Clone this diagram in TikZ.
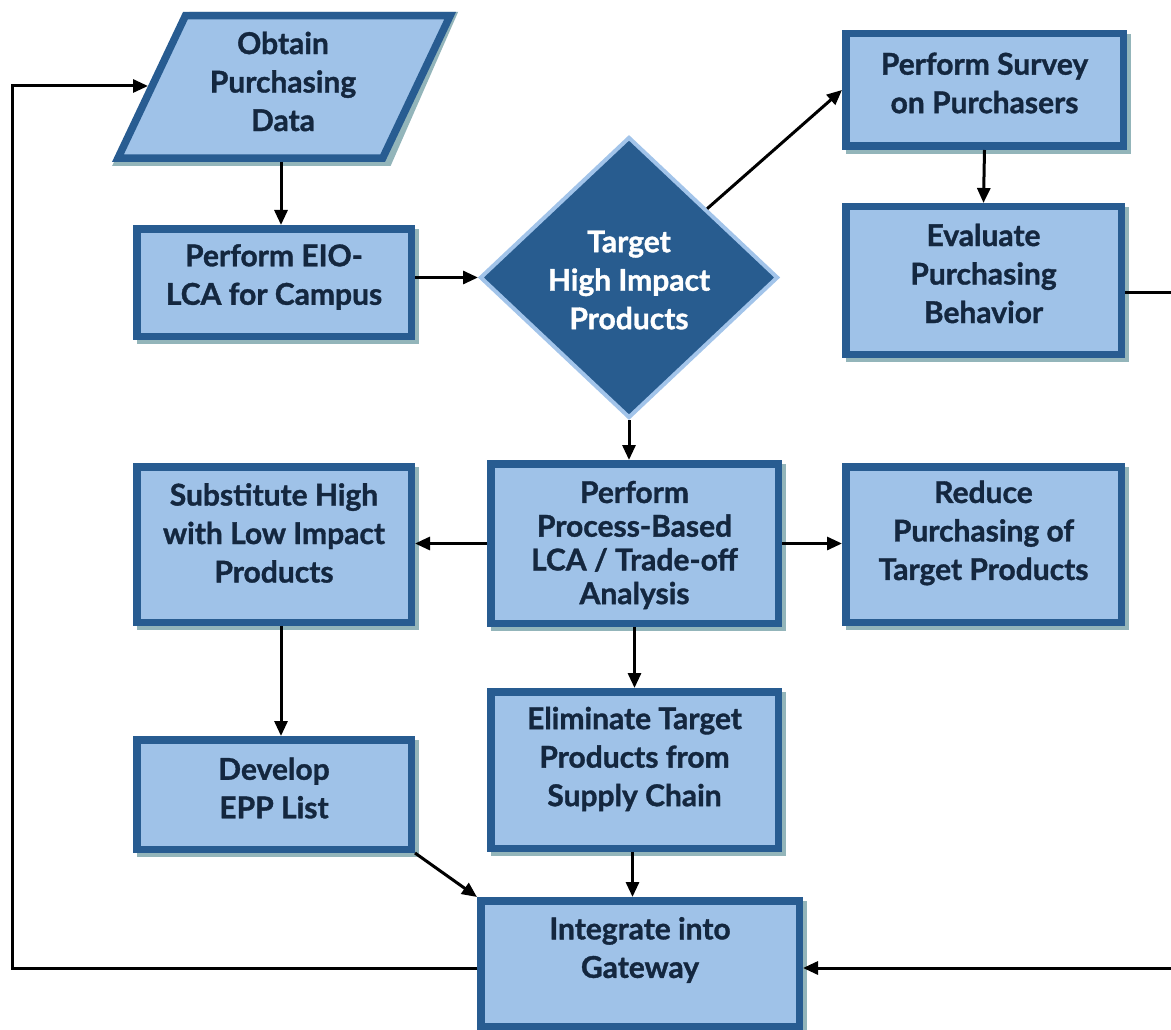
\documentclass[tikz,border=0pt]{standalone}
\usepackage{fontspec}
\setmainfont{Lato}[BoldFeatures={FakeBold=1.2}]
\usetikzlibrary{arrows.meta,shapes.geometric}
\definecolor{boxfill}{HTML}{9FC2E8}
\definecolor{boxline}{HTML}{285C91}
\definecolor{txtc}{HTML}{14273F}
\definecolor{shad}{HTML}{93B5BA}
\definecolor{dfill}{HTML}{285C8F}
\definecolor{dline}{HTML}{A2C4EA}
\begin{document}
\begin{tikzpicture}[x=1pt,y=-1pt,
 box/.style={draw=boxline, fill=boxfill, line width=7.5pt, rectangle, outer sep=3.75pt, inner sep=0pt,
   preaction={draw=shad, fill=shad, line width=7.5pt, transform canvas={xshift=4pt,yshift=-4pt}}},
 lbl/.style={text=txtc, font=\fontsize{30}{38.5}\selectfont\bfseries, align=center, inner sep=0pt},
 tight/.style={font=\fontsize{30}{33.7}\selectfont\bfseries},
 arr/.style={line width=3pt, -{Triangle[length=15pt,width=13pt]}}]
\useasboundingbox (0,0) rectangle (1171,1030);
\clip (0,0) rectangle (1171,1030);
\fill[white] (0,0) rectangle (1171,1030);

% parallelogram
\fill[shad] (189.4,12) -- (458.1,12) -- (390.6,166) -- (112.1,166) -- cycle;
\draw[draw=boxline, fill=boxfill, line width=7.5pt, line join=miter]
  (185.4,15.75) -- (450.1,15.75) -- (382.6,158.25) -- (117.9,158.25) -- cycle;
\node[lbl] (obtain) at (283,81.5) {Obtain\\Purchasing\\Data};
\coordinate (obS) at (281,162);
\coordinate (obW) at (148,86);

\node[box, minimum width=274.5pt, minimum height=107.5pt] (eio) at (274,282.5) {};
\node[lbl] (eiotxt) at (274,277) {Perform EIO-\\LCA for Campus};

\node[diamond, draw=dline, fill=dfill, line width=4pt, inner sep=0pt, minimum width=298pt, minimum height=281pt] (tgt) at (629,277.5) {};
\node[lbl, text=white] (tgttxt) at (629,280) {Target\\High Impact\\Products};

\node[box, minimum width=277.5pt, minimum height=112.5pt] (survey) at (984.5,90) {};
\node[lbl] (surveytxt) at (984.5,83) {Perform Survey\\on Purchasers};

\node[box, minimum width=275.5pt, minimum height=147.5pt] (eval) at (983.5,280.5) {};
\node[lbl] (evaltxt) at (983.5,273.5) {Evaluate\\Purchasing\\Behavior};

\node[box, minimum width=274.5pt, minimum height=155.5pt] (subst) at (274,544.5) {};
\node[lbl] (substtxt) at (274,533) {Substitute High\\with Low Impact\\Products};

\node[box, minimum width=287.5pt, minimum height=159.5pt] (proc) at (634.5,543.5) {};
\node[lbl, tight] (proctxt) at (634.5,545) {Perform\\Process-Based\\LCA / Trade-off\\Analysis};

\node[box, minimum width=275.5pt, minimum height=155.5pt] (reduce) at (983.5,544.5) {};
\node[lbl] (reducetxt) at (983.5,533) {Reduce\\Purchasing of\\Target Products};

\node[box, minimum width=287.5pt, minimum height=156.5pt] (elim) at (634.5,770) {};
\node[lbl] (elimtxt) at (634.5,759) {Eliminate Target\\Products from\\Supply Chain};

\node[box, minimum width=274.5pt, minimum height=109.5pt] (epp) at (274,794.5) {};
\node[lbl] (epptxt) at (274,788) {Develop\\EPP List};

\node[box, minimum width=318.5pt, minimum height=125.5pt] (integ) at (640,963.5) {};
\node[lbl] (integtxt) at (640,950) {Integrate into\\Gateway};

% connectors
\draw[arr] (obS) -- (obS |- eio.north);
\draw[arr] (eio.east |- tgt.west) -- (tgt.west);
\draw[arr] (tgt) -- (survey.west);
\draw[arr] (survey.south) -- (eval.north);
\draw[arr] (eval.east |- 0,292) -- (1200,292) -- (1200,968) -- (integ.east |- 0,968);
\draw[arr] (tgt.south) -- (tgt.south |- proc.north);
\draw[arr] (proc.west) -- (proc.west -| subst.east);
\draw[arr] (proc.east) -- (proc.east -| reduce.west);
\draw[arr] (proc.south) -- (elim.north);
\draw[arr] ([xshift=7pt]subst.south) -- ([xshift=7pt]epp.north);
\draw[arr] (epp.south east) -- (integ.north west);
\draw[arr] ([xshift=-2pt]elim.south) -- ([xshift=-2pt]elim.south |- integ.north);
\draw[arr] (integ.west |- 0,968) -- (12,968) -- (12,86) -- (obW);
\end{tikzpicture}
\end{document}
